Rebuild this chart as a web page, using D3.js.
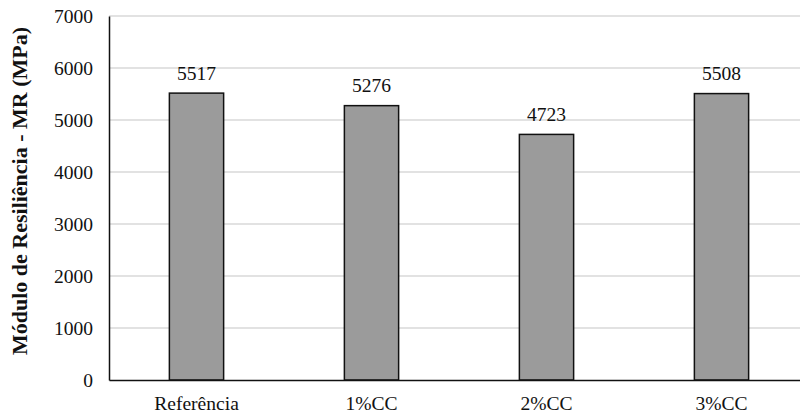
<!DOCTYPE html>
<html>
<head>
<meta charset="utf-8">
<script src="https://cdn.jsdelivr.net/npm/d3@7/dist/d3.min.js"></script>
<style>
  html, body { margin: 0; padding: 0; background: #fff; overflow: hidden; }
  svg { display: block; font-family: "Liberation Serif", "Times New Roman", serif; }
</style>
</head>
<body>
<svg id="chart" width="800" height="416"></svg>
<script>
const categories = ["Referência", "1%CC", "2%CC", "3%CC"];
const values = [5517, 5276, 4723, 5508];
const yTicks = [0, 1000, 2000, 3000, 4000, 5000, 6000, 7000];
const yTitle = "Módulo de Resiliência - MR (MPa)";

(function () {
  const svg = d3.select("#chart");
  const plotLeft = 109, plotRight = 809, plotTop = 16, plotBottom = 380;
  const stretch = 1.03;
  const fontSize = 19;

  const x = d3.scaleBand().domain(categories).range([plotLeft, plotRight]).paddingInner(0.69).paddingOuter(0.345);
  const y = d3.scaleLinear().domain([0, 7000]).range([plotBottom, plotTop]);

  // horizontal gridlines
  svg.append("g").selectAll("line").data(yTicks.filter(d => d > 0)).join("line")
    .attr("x1", plotLeft).attr("x2", plotRight)
    .attr("y1", d => y(d)).attr("y2", d => y(d))
    .attr("stroke", "#d9d9d9").attr("stroke-width", 1.5);

  // bars
  svg.append("g").selectAll("rect").data(values).join("rect")
    .attr("x", (d, i) => x(categories[i]))
    .attr("y", d => y(d))
    .attr("width", x.bandwidth())
    .attr("height", d => y(0) - y(d))
    .attr("fill", "#9b9b9b")
    .attr("stroke", "#111").attr("stroke-width", 1.5);

  // value labels
  svg.append("g").selectAll("g").data(values).join("g")
    .attr("transform", (d, i) => `translate(${x(categories[i]) + x.bandwidth() / 2},${y(d) - 13.5}) scale(${stretch},1)`)
    .append("text")
    .attr("text-anchor", "middle")
    .attr("font-size", fontSize).attr("fill", "#111")
    .text(d => d);

  // y axis
  const yAxis = svg.append("g").attr("transform", `translate(${plotLeft},0)`)
    .call(d3.axisLeft(y).tickValues(yTicks).tickSize(0).tickPadding(16).tickFormat(d3.format("d")));
  yAxis.select(".domain").attr("stroke", "#111").attr("stroke-width", 1.5);
  yAxis.selectAll(".tick text")
    .attr("x", -16 / stretch)
    .attr("dy", "0.36em")
    .attr("transform", `scale(${stretch},1)`)
    .attr("font-size", fontSize).attr("fill", "#111")
    .attr("font-family", "Liberation Serif, serif");

  // x axis
  const xAxis = svg.append("g").attr("transform", `translate(0,${plotBottom})`)
    .call(d3.axisBottom(x).tickSize(0).tickPadding(16.5));
  xAxis.select(".domain").attr("stroke", "#111").attr("stroke-width", 1.5);
  xAxis.selectAll(".tick text")
    .attr("transform", `scale(${stretch},1)`)
    .attr("font-size", fontSize).attr("fill", "#111")
    .attr("font-family", "Liberation Serif, serif");

  // y title
  svg.append("text")
    .attr("transform", `translate(27,191) rotate(-90)`)
    .attr("text-anchor", "middle")
    .attr("font-size", 22).attr("font-weight", "bold").attr("fill", "#111")
    .text(yTitle);
})();
</script>
</body>
</html>
